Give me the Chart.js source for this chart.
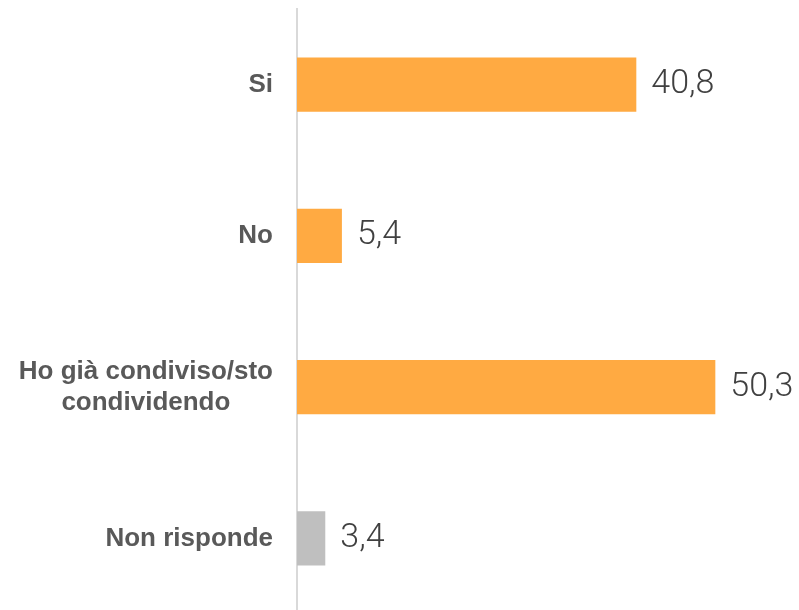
<!DOCTYPE html>
<html>
<head>
<meta charset="utf-8">
<script src="https://cdn.jsdelivr.net/npm/chart.js@4/dist/chart.umd.min.js"></script>
<style>
html,body{margin:0;padding:0;background:#fff;overflow:hidden;}
#wrap{position:relative;width:799px;height:614px;}
</style>
</head>
<body>
<div id="wrap"><canvas id="c"></canvas></div>
<script>
const categories = [["Si"], ["No"], ["Ho già condiviso/sto", "condividendo"], ["Non risponde"]];
const values = [40.8, 5.4, 50.3, 3.4];
const barColors = ["#FFAA42", "#FFAA42", "#FFAA42", "#BFBFBF"];

const tickFont = { family: '"Liberation Sans", Arial, sans-serif', size: 26, weight: 'bold', lineHeight: 1.2 };

const valueLabels = {
  id: 'valueLabels',
  afterDatasetsDraw(chart) {
    const ctx = chart.ctx;
    const meta = chart.getDatasetMeta(0);
    ctx.save();
    ctx.font = '300 34px Roboto, "Liberation Sans", sans-serif';
    ctx.fillStyle = '#404040';
    ctx.textAlign = 'left';
    ctx.textBaseline = 'middle';
    meta.data.forEach((bar, i) => {
      const txt = values[i].toFixed(1).replace('.', ',');
      ctx.fillText(txt, bar.x + 15, bar.y);
    });
    ctx.restore();
  }
};

// center lines of multi-line category labels within their own block (block stays right-aligned)
const centerMultiline = {
  id: 'centerMultiline',
  beforeDraw(chart) {
    const s = chart.scales.y;
    const items = s.getLabelItems();
    const ctx = chart.ctx;
    ctx.save();
    ctx.font = 'bold ' + tickFont.size + 'px ' + tickFont.family;
    items.forEach(it => {
      if (Array.isArray(it.label) && it.label.length > 1 && !it._centered) {
        const w = Math.max(...it.label.map(l => ctx.measureText(l).width));
        it.options.textAlign = 'center';
        it.options.translation = [it.options.translation[0] - w / 2, it.options.translation[1]];
        it._centered = true;
      }
    });
    ctx.restore();
  }
};

new Chart(document.getElementById('c'), {
  type: 'bar',
  data: {
    labels: categories,
    datasets: [{
      data: values,
      backgroundColor: barColors,
      borderWidth: 0,
      categoryPercentage: 1,
      barPercentage: 0.358
    }]
  },
  options: {
    indexAxis: 'y',
    responsive: true,
    maintainAspectRatio: false,
    animation: false,
    layout: { padding: { top: 9, right: 3, bottom: 0, left: 0 } },
    plugins: { legend: { display: false }, tooltip: { enabled: false } },
    scales: {
      x: { display: false, min: 0, max: 60 },
      y: {
        afterFit(scale) { scale.width = 297; scale.paddingTop = 0; scale.paddingBottom = 0; },
        grid: { display: false, drawTicks: false },
        border: { display: true, color: '#D9D9D9', width: 2 },
        ticks: {
          padding: 24,
          color: '#595959',
          font: tickFont
        }
      }
    }
  },
  plugins: [valueLabels, centerMultiline]
});
</script>
</body>
</html>
